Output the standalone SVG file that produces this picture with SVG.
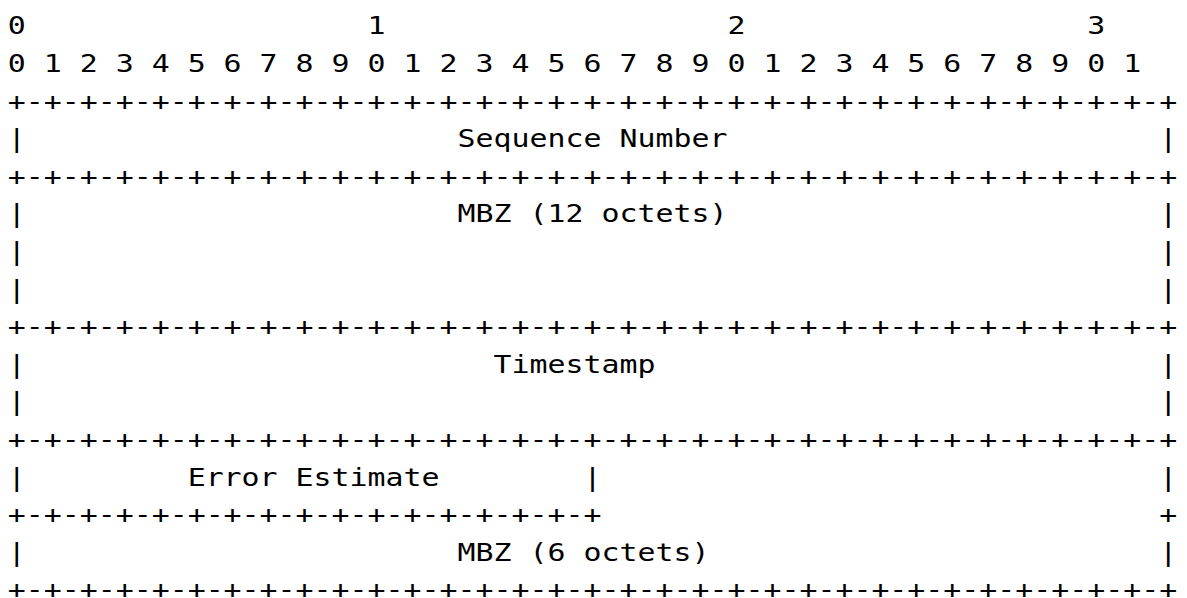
<svg xmlns="http://www.w3.org/2000/svg" width="1187" height="598" viewBox="0 0 1187 598">
<style>
text{font-family:"DejaVu Sans Mono","Liberation Mono",monospace;font-size:25px;fill:#000;white-space:pre}
</style>
<rect width="1187" height="598" fill="#fff"/>
<g transform="translate(7.7,0) scale(1.196,1)">
<g id="bit-ruler">
<text x="0" y="34.5" xml:space="preserve">0                   1                   2                   3</text>
<text x="0" y="72.1" xml:space="preserve">0 1 2 3 4 5 6 7 8 9 0 1 2 3 4 5 6 7 8 9 0 1 2 3 4 5 6 7 8 9 0 1</text>
</g>
<g id="connectors">
<text x="0" y="109.7" xml:space="preserve">+-+-+-+-+-+-+-+-+-+-+-+-+-+-+-+-+-+-+-+-+-+-+-+-+-+-+-+-+-+-+-+-+</text>
<text x="0" y="184.9" xml:space="preserve">+-+-+-+-+-+-+-+-+-+-+-+-+-+-+-+-+-+-+-+-+-+-+-+-+-+-+-+-+-+-+-+-+</text>
<text x="0" y="335.3" xml:space="preserve">+-+-+-+-+-+-+-+-+-+-+-+-+-+-+-+-+-+-+-+-+-+-+-+-+-+-+-+-+-+-+-+-+</text>
<text x="0" y="448.1" xml:space="preserve">+-+-+-+-+-+-+-+-+-+-+-+-+-+-+-+-+-+-+-+-+-+-+-+-+-+-+-+-+-+-+-+-+</text>
<text x="0" y="523.3" xml:space="preserve">+-+-+-+-+-+-+-+-+-+-+-+-+-+-+-+-+                               +</text>
<text x="0" y="598.5" xml:space="preserve">+-+-+-+-+-+-+-+-+-+-+-+-+-+-+-+-+-+-+-+-+-+-+-+-+-+-+-+-+-+-+-+-+</text>
</g>
<g id="sequence-number">
<text x="0" y="147.3" xml:space="preserve">|                        Sequence Number                        |</text>
</g>
<g id="mbz-12">
<text x="0" y="222.5" xml:space="preserve">|                        MBZ (12 octets)                        |</text>
<text x="0" y="260.1" xml:space="preserve">|                                                               |</text>
<text x="0" y="297.7" xml:space="preserve">|                                                               |</text>
</g>
<g id="timestamp">
<text x="0" y="372.9" xml:space="preserve">|                          Timestamp                            |</text>
<text x="0" y="410.5" xml:space="preserve">|                                                               |</text>
</g>
<g id="error-estimate">
<text x="0" y="485.7" xml:space="preserve">|         Error Estimate        |                               |</text>
</g>
<g id="mbz-6">
<text x="0" y="560.9" xml:space="preserve">|                        MBZ (6 octets)                         |</text>
</g>
</g>
</svg>
